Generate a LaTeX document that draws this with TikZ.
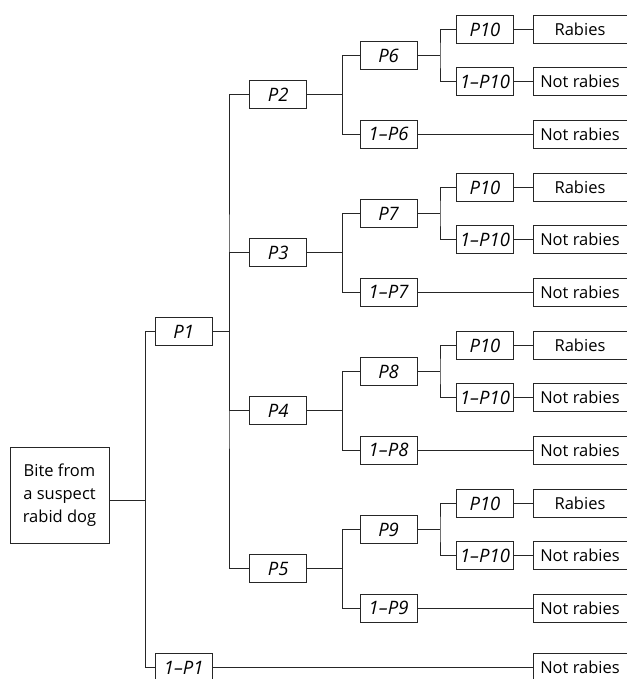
\documentclass[tikz,border=0pt]{standalone}
\usepackage{fontspec}
\setmainfont{Open Sans}
\begin{document}
\begin{tikzpicture}[x=1pt,y=-1pt,
  ln/.style={draw=black!85, line width=0.9pt},
  pbox/.style={draw=black!85, line width=0.9pt, rectangle, minimum width=57pt, minimum height=28pt, inner sep=0pt, font=\fontsize{18.5}{20}\selectfont\itshape},
  obox/.style={draw=black!85, line width=0.9pt, rectangle, minimum width=94pt, minimum height=28pt, inner sep=0pt, font=\fontsize{16.5}{18}\selectfont},
  rootbox/.style={draw=black!85, line width=0.9pt, rectangle, minimum width=99pt, minimum height=96pt, inner sep=0pt, align=center, font=\fontsize{16.5}{23}\selectfont}
]
\useasboundingbox (0,0) rectangle (626,679);
\foreach \k/\n/\m in {0/2/6,1/3/7,2/4/8,3/5/9}{
  \pgfmathsetmacro\g{29.5+158*\k}
  \node[pbox] (A\k) at (485,\g) {P10};
  \node[pbox] (B\k) at (485,\g+52) {1\textendash P10};
  \node[obox] (RA\k) at (580,\g) {Rabies};
  \node[obox] (NR\k) at (580,\g+52) {Not rabies};
  \node[pbox] (C\k) at (388.6,\g+26) {P\m};
  \node[pbox] (D\k) at (388.6,\g+104.5) {1\textendash P\m};
  \node[obox] (E\k) at (580,\g+104.5) {Not rabies};
  \node[pbox] (L\k) at (278.3,\g+65.25) {P\n};
  \coordinate (jc\k) at (440,\g+26);
  \coordinate (jl\k) at (342.3,\g+65.25);
  \draw[ln] (C\k.east) -- (jc\k);
  \draw[ln] (A\k.west) -| (jc\k) |- (B\k.west);
  \draw[ln] (A\k) -- (RA\k);
  \draw[ln] (B\k) -- (NR\k);
  \draw[ln] (L\k.east) -- (jl\k);
  \draw[ln] (C\k.west) -| (jl\k) |- (D\k.west);
  \draw[ln] (D\k) -- (E\k);
}
\node[pbox] (P1) at (183.7,331.75) {P1};
\node[pbox] (Q1) at (183.7,667.5) {1\textendash P1};
\node[obox] (NRb) at (580,667.5) {Not rabies};
\coordinate (j1) at (229,331.75);
\draw[ln] (P1.east) -- (j1);
\draw[ln] (L0.west) -| (j1) |- (L3.west);
\draw[ln] (L1.west) -| (j1);
\draw[ln] (L2.west) -| (j1);
\node[rootbox] (root) at (59.5,495) {Bite from\\a suspect\\rabid dog};
\coordinate (j0) at (145.7,500);
\draw[ln] (root.east |- j0) -- (j0);
\draw[ln] (P1.west) -| (j0) |- (Q1.west);
\draw[ln] (Q1) -- (NRb);
\end{tikzpicture}
\end{document}
